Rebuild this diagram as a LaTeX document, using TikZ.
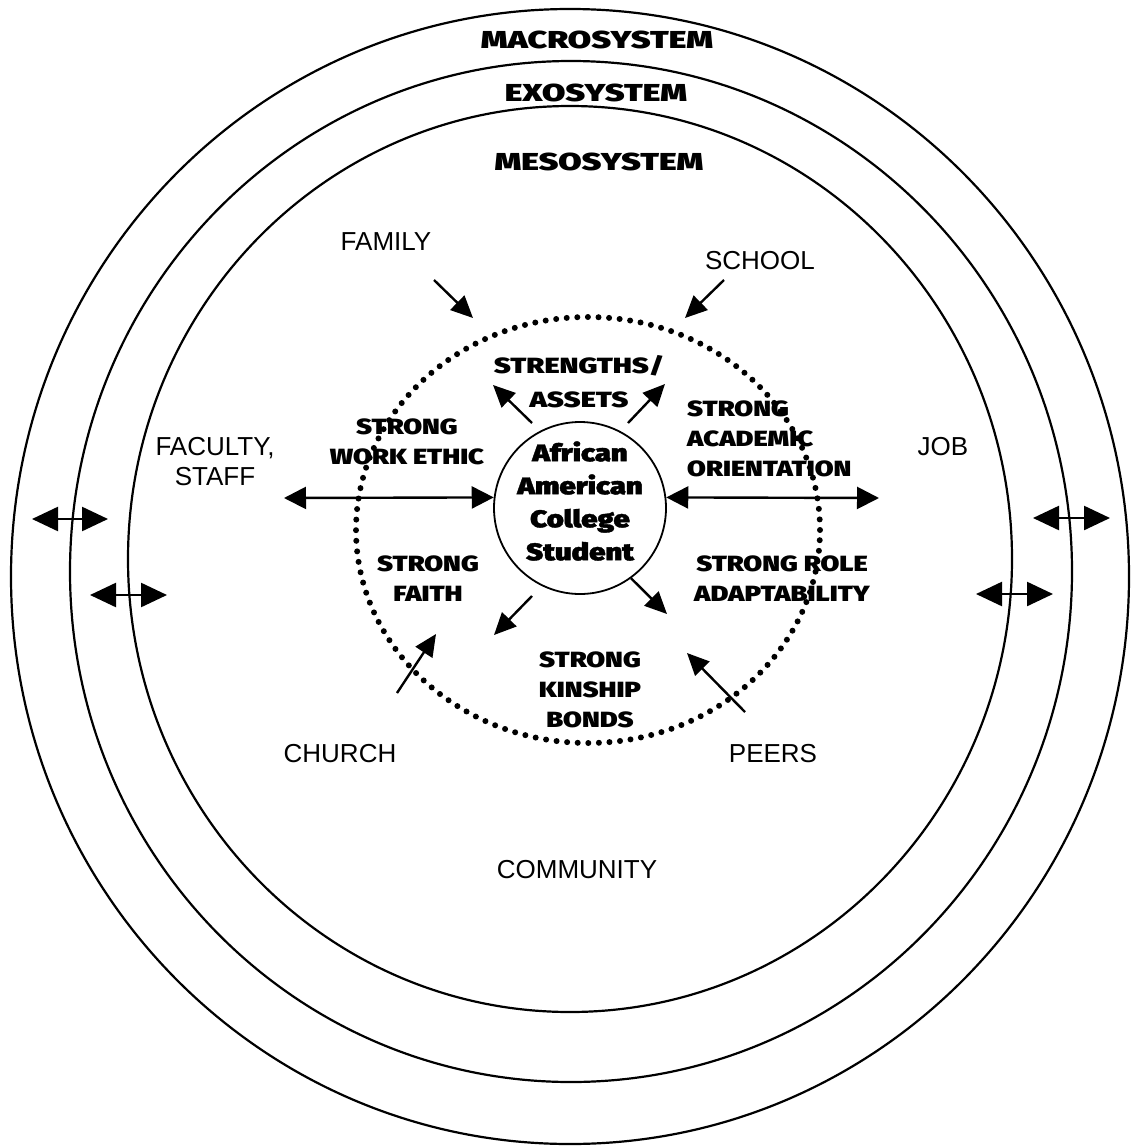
\documentclass[tikz,border=0pt]{standalone}
\usepackage{fontspec}
\setmainfont{Liberation Sans}
% heavy display faces
\newfontfamily\sysfont{Fira Sans}[UprightFont={* Black}, FakeStretch=1.38]
\newfontfamily\midfont{Fira Sans}[UprightFont={* Black}, FakeStretch=1.24]
\newfontfamily\strfont{Fira Sans}[UprightFont={* Black}, FakeStretch=1.32]
\newfontfamily\stufont{Fira Sans}[UprightFont={* Black}, FakeStretch=1.22, FakeBold=1.5]
\usetikzlibrary{arrows.meta}

\begin{document}
\begin{tikzpicture}[x=1pt,y=-1pt,
  ring/.style={line width=2.2pt},
  plain/.style={font=\fontsize{26}{30}\selectfont, inner sep=0pt, align=center},
  syslabel/.style={font=\sysfont\fontsize{24.5}{28}\selectfont, inner sep=0pt},
  strength/.style={font=\midfont\fontsize{22}{30}\selectfont, inner sep=0pt, align=center},
  outarrow/.style={line width=2.4pt, {Triangle[length=26pt,width=24pt]}-{Triangle[length=26pt,width=24pt]}},
  linkarrow/.style={line width=2.4pt, {Triangle[length=22pt,width=22pt]}-{Triangle[length=22pt,width=22pt]}},
  inarrow/.style={line width=2.4pt, -{Triangle[length=22pt,width=20pt]}}
]
\useasboundingbox (0,0) rectangle (1132,1146);

% system rings
\draw[ring] (570,576.5) ellipse [x radius=559pt, y radius=567.5pt];
\draw[ring] (571,571.5) ellipse [x radius=501pt, y radius=510.5pt];
\draw[ring] (570,559) ellipse [x radius=442pt, y radius=453pt];

% dotted ring of strengths
\draw[line width=6pt, line cap=round, dash pattern=on 0pt off 10.6pt]
  (588,530) ellipse [x radius=232pt, y radius=213pt];

% ring labels
\node[syslabel] (macro) at (597,40) {MACROSYSTEM};
\node[syslabel] (exo) at (596,93) {EXOSYSTEM};
\node[syslabel] (meso) at (599,162) {MESOSYSTEM};

% settings
\node[plain] (family) at (386,242) {FAMILY};
\node[plain] (school) at (760,261) {SCHOOL};
\node[plain] (faculty) at (215,462) {FACULTY,\\STAFF};
\node[plain] (job) at (943,447) {JOB};
\node[plain] (church) at (340,754) {CHURCH};
\node[plain] (peers) at (773,754) {PEERS};
\node[plain] (community) at (577,870) {COMMUNITY};

% student
\node[circle, draw, line width=1.8pt, minimum size=172pt, inner sep=0pt] (student) at (580,508) {};
\node[font=\stufont\fontsize{24}{33}\selectfont, inner sep=0pt, align=center]
  (studentlabel) at (580,501) {African\\American\\College\\Student};

% strengths
\node[strength, font=\strfont\fontsize{22}{34}\selectfont] (assets) at (579,382) {STRENGTHS/\\ASSETS};
\node[strength] (work) at (407,441.5) {STRONG\\WORK ETHIC};
\node[strength, align=left, anchor=west] (academic) at (687,438.5) {STRONG\\ACADEMIC\\ORIENTATION};
\node[strength] (faith) at (428,579) {STRONG\\FAITH};
\node[strength] (kinship) at (590,690) {STRONG\\KINSHIP\\BONDS};
\node[strength] (role) at (782,579) {STRONG ROLE\\ADAPTABILITY};

% arrow end points
\coordinate (luA) at (32,519);   \coordinate (luB) at (108,519);
\coordinate (llA) at (90,595);   \coordinate (llB) at (167,595);
\coordinate (ruA) at (1033,518); \coordinate (ruB) at (1110,518);
\coordinate (rlA) at (976,594);  \coordinate (rlB) at (1053,594);
\coordinate (facEnd) at (284,498);
\coordinate (jobEnd) at (879,498);
\coordinate (famA) at (434,280);  \coordinate (famB) at (473,318);
\coordinate (schA) at (724,280);  \coordinate (schB) at (685,318);
\coordinate (chuA) at (397,693);  \coordinate (chuB) at (436,634);
\coordinate (peeA) at (745,712);  \coordinate (peeB) at (687,653);
\coordinate (asLA) at (532,423);  \coordinate (asLB) at (493,385);
\coordinate (asRA) at (628,423);  \coordinate (asRB) at (665,384);
\coordinate (dnLA) at (532,596);  \coordinate (dnLB) at (494,635);
\coordinate (dnRB) at (667,614);

% links across the rings
\draw[outarrow] (luA) -- (luB);
\draw[outarrow] (llA) -- (llB);
\draw[outarrow] (ruA) -- (ruB);
\draw[outarrow] (rlA) -- (rlB);

% links to the student
\draw[linkarrow] (facEnd) -- (student.173);
\draw[linkarrow] (student.7) -- (jobEnd);

% influences and strengths
\draw[inarrow] (famA) -- (famB);
\draw[inarrow] (schA) -- (schB);
\draw[inarrow] (chuA) -- (chuB);
\draw[inarrow] (peeA) -- (peeB);
\draw[inarrow] (asLA) -- (asLB);
\draw[inarrow] (asRA) -- (asRB);
\draw[inarrow] (dnLA) -- (dnLB);
\draw[inarrow] (student.-54) -- (dnRB);
\end{tikzpicture}
\end{document}
